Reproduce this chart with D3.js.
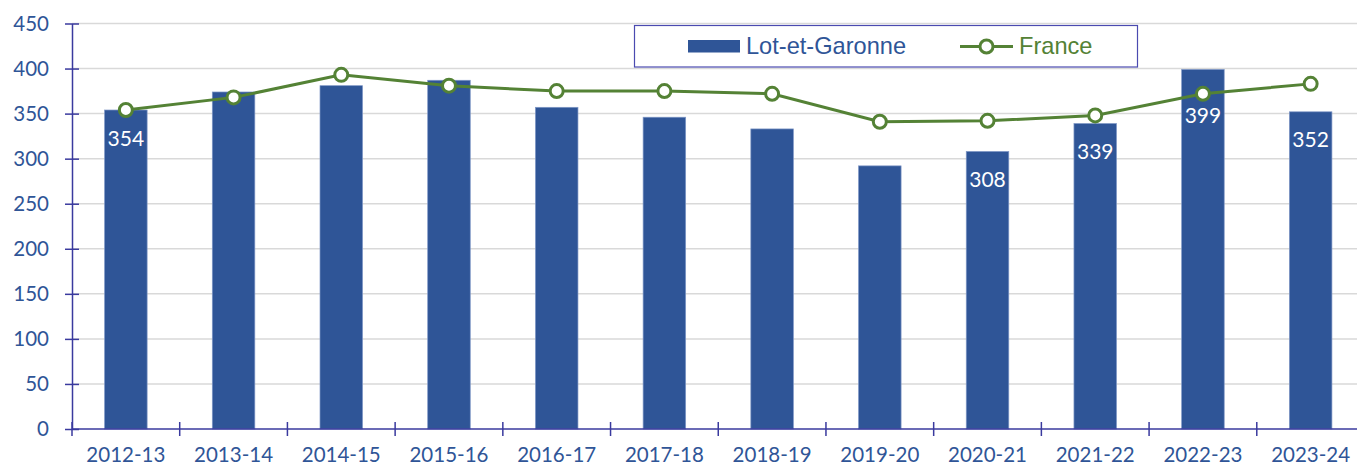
<!DOCTYPE html>
<html lang="fr">
<head>
<meta charset="utf-8">
<script src="https://d3js.org/d3.v7.min.js"></script>
<style>
  body { margin: 0; background: #fff; }
  svg text { font-family: Lato, "Open Sans", sans-serif; }
</style>
</head>
<body>
<div id="chart"></div>
<script>
// annees scolaires
const years = ['2012-13','2013-14','2014-15','2015-16','2016-17','2017-18',
               '2018-19','2019-20','2020-21','2021-22','2022-23','2023-24'];
// Lot-et-Garonne (barres)
const lotValues = [354, 374, 381, 387, 357, 346, 333, 292, 308, 339, 399, 352];
// France (ligne)
const franceValues = [354, 368, 393, 381, 375, 375, 372, 341, 342, 348, 372, 383];
// barres avec etiquette
const labelled = ['2012-13','2020-21','2021-22','2022-23','2023-24'];
const yTicks = [0, 50, 100, 150, 200, 250, 300, 350, 400, 450];

const width = 1357, height = 468;
const blue = '#2f5597', green = '#548235', axisCol = '#3a3a9e';

const svg = d3.select('#chart').append('svg')
    .attr('width', width).attr('height', height);

const x = d3.scaleBand().domain(years).range([72, 1364.5]).paddingInner(0).paddingOuter(0);
const y = d3.scaleLinear().domain([0, 450]).range([429, 23.5]);
const barW = x.bandwidth() * 0.395;

// grille
svg.append('g').selectAll('line')
    .data(yTicks.filter(d => d > 0))
    .join('line')
    .attr('x1', 72).attr('x2', width)
    .attr('y1', d => y(d)).attr('y2', d => y(d))
    .attr('stroke', '#d9d9d9').attr('stroke-width', 1.5);

// barres
svg.append('g').selectAll('rect')
    .data(years)
    .join('rect')
    .attr('x', (d) => x(d) + (x.bandwidth() - barW) / 2)
    .attr('y', (d, i) => y(lotValues[i]))
    .attr('width', barW)
    .attr('height', (d, i) => y(0) - y(lotValues[i]))
    .attr('fill', blue)
    .attr('stroke', '#7f97c6').attr('stroke-width', 0.7);

// axe y
const yAxis = svg.append('g')
    .attr('transform', 'translate(72,0)')
    .call(d3.axisLeft(y).tickValues(yTicks).tickSize(7).tickSizeOuter(0));
yAxis.select('.domain').attr('stroke', axisCol).attr('stroke-width', 1.5);
yAxis.selectAll('.tick line').attr('stroke', axisCol).attr('stroke-width', 1.5).attr('x2', 7).attr('x1', -7);
yAxis.selectAll('.tick text')
    .attr('x', -23)
    .attr('fill', '#2f5597').attr('font-size', 20.5);

// axe x
const xTickPos = years.map(d => x(d)).concat([x(years[years.length - 1]) + x.bandwidth()]);
const xAxis = svg.append('g');
xAxis.append('line')
    .attr('x1', 72).attr('x2', width)
    .attr('y1', y(0)).attr('y2', y(0))
    .attr('stroke', axisCol).attr('stroke-width', 1.5);
xAxis.selectAll('line.tk')
    .data(xTickPos)
    .join('line').attr('class', 'tk')
    .attr('x1', d => d).attr('x2', d => d)
    .attr('y1', y(0) - 7).attr('y2', y(0) + 7)
    .attr('stroke', axisCol).attr('stroke-width', 1.5);
xAxis.selectAll('text')
    .data(years)
    .join('text')
    .attr('x', d => x(d) + x.bandwidth() / 2)
    .attr('y', 461.5)
    .attr('text-anchor', 'middle')
    .attr('fill', '#2f5597').attr('font-size', 20.5)
    .text(d => d);

// ligne France
const line = d3.line()
    .x((d, i) => x(years[i]) + x.bandwidth() / 2)
    .y(d => y(d));
svg.append('path')
    .datum(franceValues)
    .attr('d', line)
    .attr('fill', 'none')
    .attr('stroke', green).attr('stroke-width', 3);
svg.append('g').selectAll('circle')
    .data(franceValues)
    .join('circle')
    .attr('cx', (d, i) => x(years[i]) + x.bandwidth() / 2)
    .attr('cy', d => y(d))
    .attr('r', 6.5)
    .attr('fill', '#fff')
    .attr('stroke', green).attr('stroke-width', 3);

// etiquettes
svg.append('g').selectAll('text')
    .data(years.filter(d => labelled.includes(d)))
    .join('text')
    .attr('x', d => x(d) + x.bandwidth() / 2)
    .attr('y', d => {
        const v = lotValues[years.indexOf(d)];
        // la 2022-23 est poussee sous la ligne
        return y(v) + (v > 390 ? 54 : 35.5);
    })
    .attr('text-anchor', 'middle')
    .attr('fill', '#fff').attr('font-size', 21)
    .text(d => lotValues[years.indexOf(d)]);

// legende
const lg = svg.append('g');
lg.append('rect')
    .attr('x', 634.5).attr('y', 25.5).attr('width', 503).attr('height', 41.5)
    .attr('fill', '#fff').attr('stroke', '#4a4ab0').attr('stroke-width', 1.2);
lg.append('rect')
    .attr('x', 688).attr('y', 40).attr('width', 52).attr('height', 12.5)
    .attr('fill', blue);
lg.append('text')
    .attr('x', 746).attr('y', 53.5)
    .attr('fill', blue).attr('font-size', 23.6)
    .style('font-family', '"Liberation Sans", Arial, sans-serif')
    .text('Lot-et-Garonne');
lg.append('line')
    .attr('x1', 960).attr('x2', 1013).attr('y1', 46.5).attr('y2', 46.5)
    .attr('stroke', green).attr('stroke-width', 3);
lg.append('circle')
    .attr('cx', 986.5).attr('cy', 46.5).attr('r', 6.5)
    .attr('fill', '#fff').attr('stroke', green).attr('stroke-width', 3);
lg.append('text')
    .attr('x', 1019).attr('y', 53.5)
    .attr('fill', green).attr('font-size', 23.6)
    .style('font-family', '"Liberation Sans", Arial, sans-serif')
    .text('France');
</script>
</body>
</html>
